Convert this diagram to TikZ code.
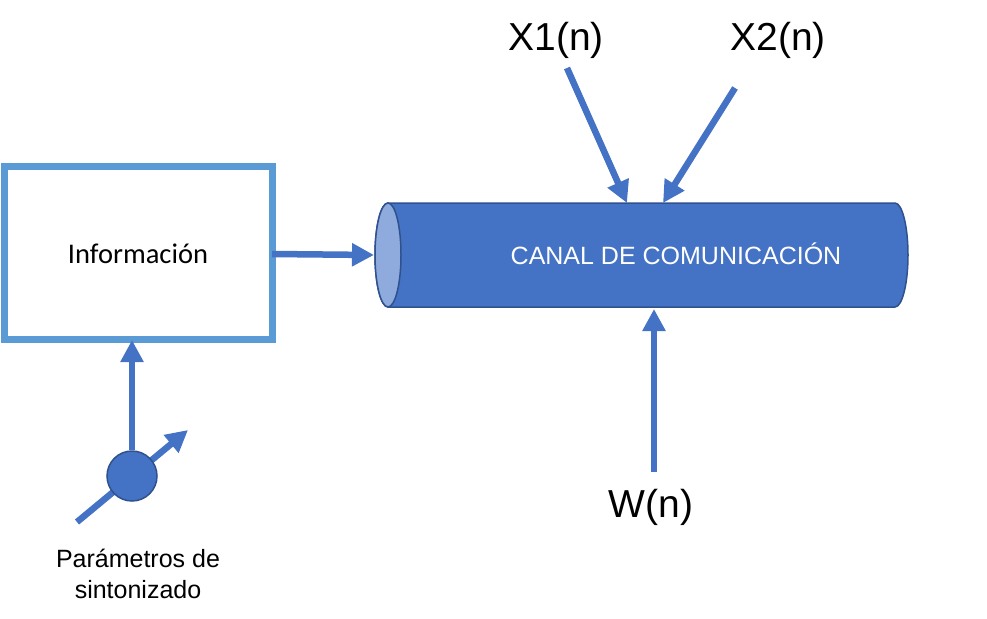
\documentclass[tikz,border=0pt]{standalone}
\usepackage{fontspec}
\setmainfont{Liberation Sans}
\newfontfamily\calfont{Carlito}
\usetikzlibrary{arrows.meta}
\definecolor{accent}{HTML}{4472C4}
\definecolor{lightacc}{HTML}{5B9BD5}
\definecolor{darkacc}{HTML}{2F528F}
\definecolor{faceacc}{HTML}{8FAADC}
\tikzset{
  conn/.style={draw=accent, line width=6.5pt, -{Triangle[length=22pt,width=22pt]}},
  lbl/.style={inner sep=0pt, anchor=center},
}
\begin{document}
\begin{tikzpicture}[x=1pt,y=-1pt]
\useasboundingbox (0,0) rectangle (987,618);
% information box
\draw[lightacc, line width=7pt] (4.5,166) rectangle (272,339);
\node[lbl, font=\calfont\fontsize{28.5}{32}\selectfont] (info) at (138,254) {Información};
\coordinate (infoR) at (272,254);
\coordinate (infoB) at (132,340);
% cylinder
\fill[accent, draw=darkacc, line width=1.5pt] (388,203) -- (895,203) arc[start angle=90,end angle=-90,x radius=13pt,y radius=52pt] -- (388,307) arc[start angle=270,end angle=90,x radius=13pt,y radius=52pt] -- cycle;
\fill[faceacc, draw=darkacc, line width=1.5pt] (388,255) ellipse[x radius=13pt,y radius=52pt];
\node[lbl, text=white, font=\fontsize{25}{29}\selectfont] (canal) at (676,254) {CANAL DE COMUNICACIÓN};
\coordinate (cylL) at (374,255);
\coordinate (cylT1) at (627,203);
\coordinate (cylT2) at (663,203);
\coordinate (cylB) at (654,309);
% signals
\node[lbl, font=\fontsize{39}{44}\selectfont] (x1) at (556,40) {X1(n)};
\node[lbl, font=\fontsize{39}{44}\selectfont] (x2) at (778,40) {X2(n)};
\node[lbl, font=\fontsize{39}{44}\selectfont] (w) at (651,507) {W(n)};
\coordinate (x1s) at (567,68);
\coordinate (x2s) at (735,88);
\coordinate (ws) at (654,472);
\draw[conn] (infoR) -- (cylL);
\draw[conn] (x1s) -- (cylT1);
\draw[conn] (x2s) -- (cylT2);
\draw[conn] (ws) -- (cylB);
% tuning knob
\coordinate (diagS) at (77,522);
\coordinate (diagE) at (188,430);
\draw[conn] (diagS) -- (diagE);
\node[circle, fill=accent, draw=darkacc, line width=1.5pt, minimum size=50pt, inner sep=0pt] (knob) at (132,476) {};
\draw[conn] (knob.north) -- (infoB);
\node[lbl, font=\fontsize{25}{29}\selectfont, align=center] (param) at (138,574) {Parámetros de\\[2pt]sintonizado};
\end{tikzpicture}
\end{document}
